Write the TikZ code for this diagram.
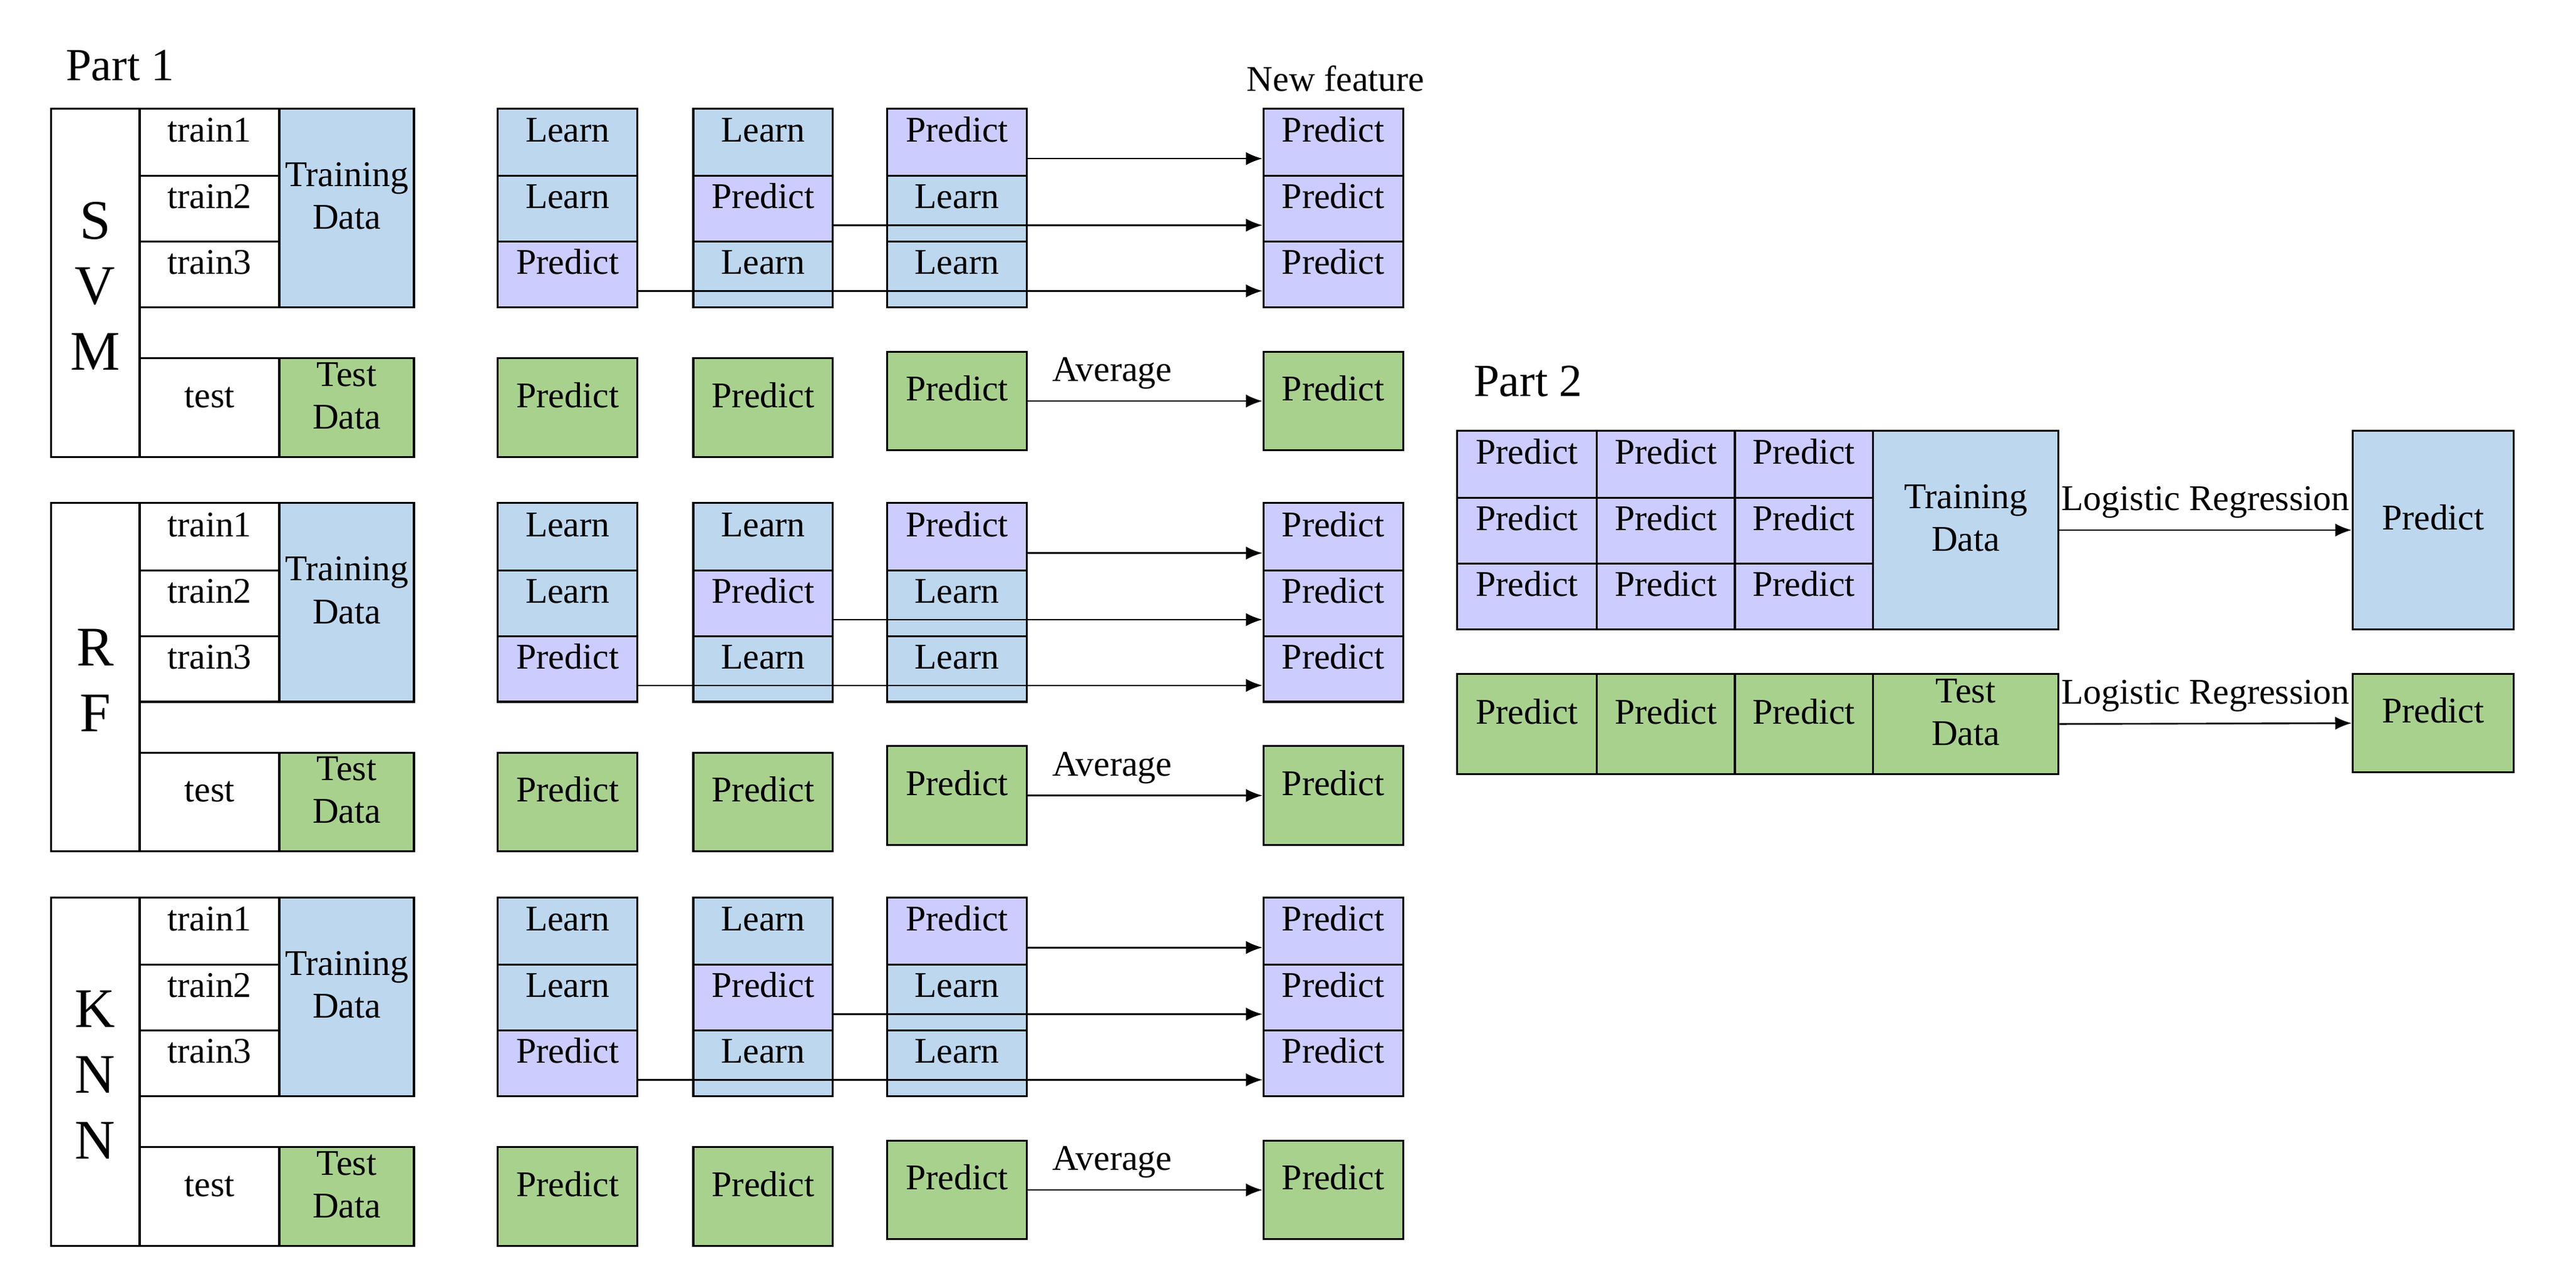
\documentclass[tikz,border=0pt]{standalone}
\usepackage{fontspec}
\setmainfont{Liberation Serif}
\usetikzlibrary{fit,arrows.meta}
\definecolor{cb}{HTML}{BDD7EE}
\definecolor{cp}{HTML}{CCCCFF}
\definecolor{cg}{HTML}{A9D18E}
\tikzset{
 c/.style={draw=black,line width=0.6pt,inner sep=0pt,align=center,font=\fontsize{11}{13}\selectfont},
 arr/.style={-{Latex[length=5pt,width=4pt]},line width=0.5pt},
 lbl/.style={font=\fontsize{11}{13}\selectfont}
}
\newcommand\cell[7]{\node[c,fill=#6,fit={(#2,#3)(#4,#5)}] (#1) {#7};}
\begin{document}
\begin{tikzpicture}[x=0.5pt,y=-0.5pt]
\useasboundingbox (0,0) rectangle (1568,780);
\node[anchor=west,font=\fontsize{14}{16}\selectfont] (p1) at (33,40) {Part 1};
\node[lbl] (nf) at (813,48) {New feature};
\foreach \o/\n/\t in {0/S/{S\\V\\M},240/R/{R\\F},480/K/{K\\N\\N}}{
\begin{scope}[yshift=-\o*0.5pt]
\cell{\n-box}{31}{66}{85}{278}{white}{}
\node[align=center,font=\fontsize{17}{20}\selectfont] (\n-lab) at (58,174) {\t};
\cell{\n-t1}{85}{66}{170}{107}{white}{train1}
\cell{\n-t2}{85}{107}{170}{147}{white}{train2}
\cell{\n-t3}{85}{147}{170}{187}{white}{train3}
\cell{\n-tr}{170}{66}{252}{187}{cb}{Training\\Data}
\cell{\n-te}{85}{218}{170}{278}{white}{test}
\cell{\n-td}{170}{218}{252}{278}{cg}{Test\\Data}
\cell{\n-a1}{303}{66}{388}{107}{cb}{Learn}
\cell{\n-a2}{303}{107}{388}{147}{cb}{Learn}
\cell{\n-a3}{303}{147}{388}{187}{cp}{Predict}
\cell{\n-b1}{422}{66}{507}{107}{cb}{Learn}
\cell{\n-b2}{422}{107}{507}{147}{cp}{Predict}
\cell{\n-b3}{422}{147}{507}{187}{cb}{Learn}
\cell{\n-c1}{540}{66}{625}{107}{cp}{Predict}
\cell{\n-c2}{540}{107}{625}{147}{cb}{Learn}
\cell{\n-c3}{540}{147}{625}{187}{cb}{Learn}
\cell{\n-f1}{769}{66}{854}{107}{cp}{Predict}
\cell{\n-f2}{769}{107}{854}{147}{cp}{Predict}
\cell{\n-f3}{769}{147}{854}{187}{cp}{Predict}
\cell{\n-ap}{303}{218}{388}{278}{cg}{Predict}
\cell{\n-bp}{422}{218}{507}{278}{cg}{Predict}
\cell{\n-cp}{540}{214}{625}{274}{cg}{Predict}
\cell{\n-fp}{769}{214}{854}{274}{cg}{Predict}
\draw[arr] ([yshift=-5pt]\n-c1.east) -- ([yshift=-5pt]\n-f1.west);
\draw[arr] ([yshift=-5pt]\n-b2.east) -- ([yshift=-5pt]\n-f2.west);
\draw[arr] ([yshift=-5pt]\n-a3.east) -- ([yshift=-5pt]\n-f3.west);
\draw[arr] (\n-cp.east) -- node[lbl,above,xshift=-10pt] {Average} (\n-fp.west);
\end{scope}}
\node[anchor=west,font=\fontsize{14}{16}\selectfont] (p2) at (890,232) {Part 2};
\foreach \r/\ya/\yb in {1/262/303,2/303/343,3/343/383}{
\cell{g\r1}{887}{\ya}{972}{\yb}{cp}{Predict}
\cell{g\r2}{972}{\ya}{1056}{\yb}{cp}{Predict}
\cell{g\r3}{1056}{\ya}{1140}{\yb}{cp}{Predict}}
\cell{ptr}{1140}{262}{1253}{383}{cb}{Training\\Data}
\cell{pout1}{1432}{262}{1530}{383}{cb}{Predict}
\draw[arr] (ptr.east) -- node[lbl,above] {Logistic Regression} (pout1.west);
\cell{h1}{887}{410}{972}{471}{cg}{Predict}
\cell{h2}{972}{410}{1056}{471}{cg}{Predict}
\cell{h3}{1056}{410}{1140}{471}{cg}{Predict}
\cell{ptd}{1140}{410}{1253}{471}{cg}{Test\\Data}
\cell{pout2}{1432}{410}{1530}{470}{cg}{Predict}
\draw[arr] (ptd.east) -- node[lbl,above] {Logistic Regression} (pout2.west);
\end{tikzpicture}
\end{document}
